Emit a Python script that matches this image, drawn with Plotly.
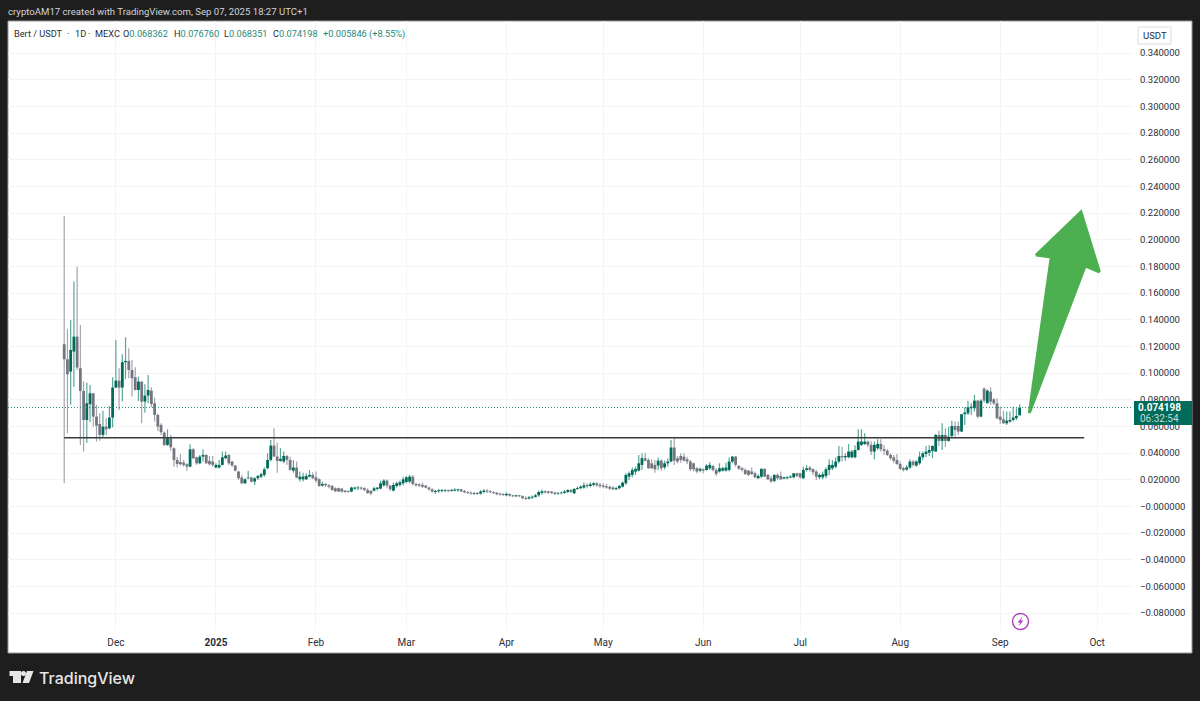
import pandas as pd
import plotly.graph_objects as go

# daily candles, first candle is 2024-11-15
opens = [
    .1217, .1104, .1012, .1162, .1274, .1037, .0867, .0649, .0767, .0849,
    .0674, .0619, .0537, .0599, .0587, .0667, .0892, .0944, .0892, .1082,
    .1092, .1024, .0969, .0874, .0937, .0787, .0832, .0869, .0774, .0687,
    .0612, .0554, .0462, .0512, .0437, .0349, .0334, .0329, .0317, .0299,
    .0429, .0369, .0324, .0374, .0387, .0342, .0337, .0292, .0292, .0312,
    .0362, .0387, .0337, .0307, .0262, .0217, .0174, .0212, .0217, .0187,
    .0212, .0224, .0237, .0287, .0349, .0457, .0374, .0342, .0337, .0379,
    .0349, .0269, .0292, .0204, .0204, .0204, .0224, .0237, .0219, .0204,
    .0157, .0169, .0159, .0154, .0137, .0137, .0134, .0119, .0117, .0112,
    .0134, .0137, .0142, .0137, .0124, .0117, .0119, .0132, .0134, .0159,
    .0194, .0157, .0119, .0154, .0162, .0174, .0184, .0187, .0224, .0169,
    .0167, .0162, .0157, .0142, .0129, .0109, .0114, .0117, .0117, .0122,
    .0117, .0119, .0122, .0129, .0117, .0109, .0104, .0094, .0102, .0097,
    .0109, .0119, .0114, .0109, .0104, .0097, .0094, .0084, .0094, .0084,
    .0077, .0084, .0077, .0064, .0059, .0067, .0072, .0084, .0102, .0114,
    .0114, .0112, .0104, .0097, .0099, .0102, .0109, .0124, .0099, .0132,
    .0137, .0142, .0162, .0154, .0162, .0174, .0164, .0157, .0152, .0147,
    .0142, .0129, .0137, .0149, .0174, .0224, .0237, .0262, .0269, .0312,
    .0362, .0349, .0324, .0312, .0307, .0344, .0294, .0324, .0337, .0442,
    .0362, .0379, .0374, .0354, .0337, .0324, .0287, .0269, .0279, .0274,
    .0287, .0304, .0274, .0262, .0269, .0269, .0274, .0337, .0374, .0304,
    .0287, .0274, .0269, .0262, .0249, .0212, .0224, .0282, .0237, .0212,
    .0192, .0237, .0229, .0209, .0212, .0217, .0219, .0249, .0249, .0212,
    .0274, .0292, .0279, .0262, .0219, .0219, .0229, .0274, .0287, .0299,
    .0337, .0379, .0369, .0369, .0369, .0369, .0424, .0462, .0469, .0487,
    .0462, .0412, .0437, .0469, .0429, .0419, .0387, .0369, .0349, .0319,
    .0287, .0277, .0292, .0337, .0307, .0324, .0369, .0394, .0404, .0417,
    .0412, .0537, .0492, .0537, .0492, .0529, .0604, .0604, .0562, .0692,
    .0699, .0737, .0737, .0794, .0674, .0884, .0774, .0862, .0804, .0774,
    .0674, .0654, .0624, .0637, .0649, .0662, .068362,
]
highs = [
    .2179, .1332, .1399, .1687, .1799, .1362, .0937, .0929, .0912, .0849,
    .0762, .0699, .0719, .0662, .0754, .0969, .1249, .1037, .1142, .1269,
    .1187, .1099, .1044, .0974, .0937, .0917, .0987, .0894, .0817, .0694,
    .0624, .0562, .0579, .0537, .0444, .0374, .0394, .0349, .0324, .0467,
    .0437, .0374, .0387, .0429, .0392, .0379, .0379, .0325, .0349, .0412,
    .0412, .0392, .0342, .0312, .0269, .0237, .0212, .0269, .0224, .0219,
    .0237, .0254, .0294, .0399, .0499, .0587, .0479, .0437, .0412, .0387,
    .0374, .0349, .0337, .0262, .0254, .0249, .0274, .0257, .0262, .0212,
    .0187, .0179, .0169, .0162, .0144, .0142, .0139, .0124, .0119, .0149,
    .0149, .0154, .0149, .0144, .0137, .0124, .0149, .0147, .0194, .0204,
    .0204, .0162, .0179, .0187, .0194, .0224, .0229, .0237, .0237, .0179,
    .0174, .0179, .0162, .0149, .0137, .0124, .0132, .0132, .0132, .0129,
    .0132, .0137, .0134, .0134, .0124, .0114, .0112, .0109, .0109, .0124,
    .0132, .0132, .0124, .0114, .0109, .0104, .0099, .0107, .0099, .0089,
    .0089, .0089, .0084, .0079, .0079, .0082, .0094, .0119, .0127, .0122,
    .0119, .0117, .0112, .0109, .0112, .0124, .0129, .0132, .0137, .0149,
    .0157, .0182, .0174, .0182, .0184, .0184, .0179, .0174, .0169, .0157,
    .0154, .0149, .0162, .0187, .0249, .0262, .0292, .0299, .0387, .0399,
    .0404, .0362, .0354, .0349, .0367, .0354, .0344, .0362, .0499, .0524,
    .0379, .0399, .0399, .0374, .0349, .0329, .0294, .0292, .0287, .0317,
    .0332, .0312, .0287, .0324, .0299, .0329, .0367, .0379, .0379, .0312,
    .0299, .0287, .0274, .0292, .0262, .0242, .0287, .0287, .0244, .0229,
    .0242, .0249, .0262, .0224, .0229, .0237, .0252, .0254, .0254, .0299,
    .0312, .0304, .0287, .0274, .0249, .0262, .0294, .0354, .0349, .0369,
    .0454, .0449, .0399, .0469, .0424, .0459, .0579, .0579, .0549, .0494,
    .0487, .0487, .0504, .0504, .0462, .0429, .0399, .0387, .0394, .0337,
    .0299, .0312, .0354, .0349, .0349, .0412, .0412, .0454, .0462, .0459,
    .0544, .0569, .0624, .0587, .0599, .0644, .0637, .0637, .0694, .0744,
    .0794, .0774, .0837, .0799, .0804, .0894, .0879, .0894, .0812, .0812,
    .0749, .0719, .0712, .0712, .0749, .0737, .07676,
]
lows = [
    .0174, .0549, .0764, .0899, .1024, .0462, .0412, .0479, .0632, .0599,
    .0487, .0494, .0519, .0537, .0579, .0592, .0889, .0724, .0787, .0957,
    .0962, .0824, .0870, .0792, .0624, .0704, .0774, .0744, .0637, .0567,
    .0537, .0454, .0454, .0419, .0299, .0292, .0307, .0299, .0269, .0294,
    .0354, .0312, .0317, .0337, .0320, .0307, .0299, .0287, .0287, .0307,
    .0354, .0312, .0299, .0262, .0199, .0169, .0169, .0204, .0179, .0162,
    .0199, .0212, .0224, .0279, .0337, .0374, .0254, .0337, .0324, .0312,
    .0270, .0254, .0212, .0187, .0187, .0199, .0219, .0204, .0179, .0149,
    .0149, .0149, .0137, .0119, .0109, .0107, .0104, .0104, .0104, .0107,
    .0124, .0124, .0124, .0114, .0094, .0084, .0112, .0119, .0129, .0149,
    .0137, .0119, .0112, .0142, .0149, .0157, .0174, .0174, .0157, .0149,
    .0144, .0137, .0137, .0119, .0104, .0094, .0104, .0107, .0109, .0109,
    .0112, .0112, .0109, .0107, .0099, .0094, .0089, .0087, .0087, .0089,
    .0099, .0099, .0099, .0094, .0084, .0082, .0079, .0077, .0074, .0069,
    .0069, .0069, .0054, .0049, .0054, .0057, .0067, .0074, .0089, .0097,
    .0094, .0094, .0087, .0089, .0092, .0094, .0099, .0102, .0094, .0124,
    .0129, .0134, .0137, .0144, .0149, .0147, .0137, .0137, .0132, .0124,
    .0124, .0124, .0129, .0142, .0162, .0199, .0219, .0237, .0262, .0274,
    .0337, .0282, .0279, .0254, .0274, .0269, .0279, .0299, .0332, .0312,
    .0324, .0329, .0337, .0317, .0267, .0262, .0249, .0257, .0249, .0269,
    .0274, .0262, .0229, .0254, .0262, .0262, .0262, .0324, .0299, .0274,
    .0262, .0237, .0229, .0237, .0212, .0207, .0212, .0219, .0199, .0179,
    .0182, .0199, .0199, .0204, .0204, .0212, .0212, .0219, .0207, .0207,
    .0262, .0262, .0237, .0199, .0204, .0204, .0212, .0237, .0274, .0287,
    .0324, .0337, .0344, .0362, .0362, .0362, .0420, .0454, .0462, .0444,
    .0387, .0354, .0424, .0412, .0387, .0379, .0349, .0324, .0312, .0274,
    .0262, .0269, .0284, .0299, .0299, .0312, .0349, .0369, .0379, .0362,
    .0409, .0454, .0424, .0444, .0487, .0512, .0524, .0537, .0558, .0612,
    .0687, .0687, .0712, .0662, .0669, .0779, .0774, .0762, .0762, .0654,
    .0619, .0619, .0612, .0629, .0637, .0649, .068351,
]
closes = [
    .1104, .0992, .1174, .1274, .1042, .0867, .0649, .0774, .0849, .0674,
    .0607, .0537, .0599, .0579, .0667, .0892, .0944, .0892, .1082, .1092,
    .1024, .0962, .0874, .0937, .0787, .0832, .0874, .0769, .0687, .0599,
    .0557, .0462, .0512, .0444, .0349, .0319, .0317, .0312, .0299, .0429,
    .0362, .0324, .0374, .0387, .0324, .0317, .0312, .0312, .0312, .0369,
    .0382, .0324, .0307, .0269, .0212, .0174, .0204, .0217, .0187, .0212,
    .0229, .0242, .0279, .0349, .0457, .0374, .0342, .0357, .0379, .0349,
    .0274, .0292, .0217, .0224, .0224, .0229, .0237, .0212, .0194, .0154,
    .0169, .0159, .0149, .0124, .0114, .0112, .0112, .0109, .0109, .0142,
    .0142, .0142, .0134, .0124, .0102, .0097, .0137, .0142, .0174, .0194,
    .0157, .0129, .0162, .0174, .0182, .0204, .0219, .0224, .0169, .0159,
    .0157, .0149, .0142, .0129, .0112, .0117, .0122, .0124, .0122, .0114,
    .0124, .0127, .0129, .0114, .0107, .0102, .0097, .0099, .0094, .0112,
    .0119, .0112, .0107, .0102, .0092, .0089, .0087, .0094, .0082, .0077,
    .0084, .0077, .0062, .0057, .0069, .0074, .0084, .0109, .0114, .0104,
    .0104, .0102, .0094, .0102, .0104, .0112, .0124, .0109, .0132, .0139,
    .0149, .0159, .0152, .0167, .0174, .0159, .0154, .0147, .0142, .0134,
    .0129, .0137, .0154, .0179, .0237, .0249, .0274, .0282, .0324, .0362,
    .0344, .0287, .0287, .0279, .0344, .0287, .0324, .0337, .0442, .0344,
    .0337, .0349, .0344, .0337, .0279, .0279, .0262, .0282, .0269, .0307,
    .0312, .0274, .0244, .0287, .0287, .0292, .0337, .0374, .0312, .0284,
    .0274, .0244, .0237, .0244, .0219, .0229, .0282, .0224, .0204, .0187,
    .0237, .0212, .0204, .0219, .0219, .0224, .0249, .0229, .0219, .0274,
    .0287, .0274, .0257, .0224, .0237, .0242, .0279, .0312, .0312, .0337,
    .0379, .0369, .0379, .0412, .0412, .0424, .0487, .0487, .0487, .0462,
    .0412, .0462, .0469, .0429, .0417, .0387, .0362, .0344, .0319, .0282,
    .0274, .0294, .0337, .0312, .0337, .0374, .0399, .0412, .0424, .0454,
    .0537, .0492, .0537, .0492, .0524, .0604, .0574, .0562, .0692, .0704,
    .0744, .0749, .0794, .0674, .0794, .0794, .0869, .0787, .0774, .0662,
    .0649, .0624, .0644, .0649, .0667, .0679, .074198,
]
dates = pd.date_range("2024-11-15", periods=len(closes), freq="D")

support_level = 0.0516
support_dates = ["2024-11-15", "2025-09-27"]

arrow_dates = ["2025-09-10", "2025-09-16 19:00", "2025-09-12 03:00", "2025-09-26",
               "2025-10-01 17:00", "2025-09-27 07:00", "2025-09-10"]
arrow_prices = [0.0701, 0.1871, 0.1886, 0.2209, 0.1759, 0.1804, 0.0701]

price_ticks = [-0.08, -0.06, -0.04, -0.02, 0, 0.02, 0.04, 0.06, 0.08, 0.10, 0.12,
               0.14, 0.16, 0.18, 0.20, 0.22, 0.24, 0.26, 0.28, 0.30, 0.32, 0.34]
price_labels = ["−0.080000", "−0.060000", "−0.040000", "−0.020000", "−0.000000",
                "0.020000", "0.040000", "0.060000", "0.080000", "0.100000", "0.120000",
                "0.140000", "0.160000", "0.180000", "0.200000", "0.220000", "0.240000",
                "0.260000", "0.280000", "0.300000", "0.320000", "0.340000"]
month_ticks = ["2024-12-01", "2025-01-01", "2025-02-01", "2025-03-01", "2025-04-01", "2025-05-01",
               "2025-06-01", "2025-07-01", "2025-08-01", "2025-09-01", "2025-10-01"]
month_labels = ["Dec", "<b>2025</b>", "Feb", "Mar", "Apr", "May", "Jun", "Jul", "Aug", "Sep", "Oct"]

# plot area in page pixels
W, H = 1200, 701
L, R, T, B = 8, 1133, 21, 630
FONT = "Roboto"
UP, DOWN = "#006b5a", "#74767f"
UP_WICK, DOWN_WICK = "#5aa698", "#a3a5ae"
TEAL_TEXT = "#1f8a78"


def px(x):
    return (x - L) / (R - L)


def py(y):
    return 1 - (y - T) / (B - T)


def path(points):
    return "M" + " L".join(f"{px(x):.5f},{py(y):.5f}" for x, y in points) + " Z"


def label(x, y, text, color="#2a2e39", size=9.2, anchor="left", bold=False, family=FONT, weight=None):
    font = dict(family=family, size=size, color=color)
    if weight:
        font["weight"] = weight
    return dict(xref="paper", yref="paper", x=px(x), y=py(y), text=f"<b>{text}</b>" if bold else text,
                showarrow=False, xanchor=anchor, yanchor="middle", font=font, borderpad=0, borderwidth=0)


fig = go.Figure()
# wicks and bodies are both ohlc lines with no side ticks, a thick one for the body
fig.add_trace(go.Ohlc(
    x=dates, open=opens, high=highs, low=lows, close=closes, tickwidth=0,
    increasing=dict(line=dict(color=UP_WICK, width=1.2)),
    decreasing=dict(line=dict(color=DOWN_WICK, width=1.2)),
    showlegend=False, hoverinfo="skip"))
fig.add_trace(go.Ohlc(
    x=dates, open=opens, close=closes,
    high=[max(o, c) for o, c in zip(opens, closes)],
    low=[min(o, c) for o, c in zip(opens, closes)],
    tickwidth=0,
    increasing=dict(line=dict(color=UP, width=2.8)),
    decreasing=dict(line=dict(color=DOWN, width=2.8)),
    showlegend=False, hoverinfo="skip"))
fig.add_trace(go.Scatter(
    x=support_dates, y=[support_level, support_level], mode="lines",
    line=dict(color="#3a3a3a", width=1.4), showlegend=False, hoverinfo="skip"))
fig.add_trace(go.Scatter(
    x=arrow_dates, y=arrow_prices, mode="lines", fill="toself", fillcolor="#4caf50",
    line=dict(color="#4caf50", width=3, shape="linear"), showlegend=False, hoverinfo="skip"))

shapes = [
    # white panel
    dict(type="rect", xref="paper", yref="paper", x0=px(8), x1=px(1192), y0=py(21), y1=py(653),
         fillcolor="white", line=dict(color="#9a9a9a", width=1), layer="below"),
    # last price line
    dict(type="line", xref="paper", yref="y", x0=0, x1=1, y0=closes[-1], y1=closes[-1],
         line=dict(color=TEAL_TEXT, width=1, dash="1px,2px"), layer="above"),
    # price tag
    dict(type="rect", xref="paper", yref="paper", x0=px(1134), x1=px(1192), y0=py(401), y1=py(425),
         fillcolor="#006b5a", line=dict(width=0), layer="above"),
    # USDT button
    dict(type="rect", xref="paper", yref="paper", x0=px(1138), x1=px(1171), y0=py(27), y1=py(44),
         fillcolor="white", line=dict(color="#dcdcdc", width=1), layer="above"),
    # lightning badge
    dict(type="circle", xref="paper", yref="paper", x0=px(1012.5), x1=px(1028.5), y0=py(613.5), y1=py(629.5),
         fillcolor="white", line=dict(color="#ab47bc", width=1.4), layer="above"),
    dict(type="path", xref="paper", yref="paper",
         path=path([(1022.5, 616.5), (1017.5, 622.5), (1020.2, 622.5), (1018.5, 626.5),
                    (1023.5, 620.5), (1020.8, 620.5)]),
         fillcolor="#ab47bc", line=dict(width=0), layer="above"),
    # TradingView logo
    dict(type="path", xref="paper", yref="paper",
         path=path([(9.5, 671), (21, 671), (21, 683), (13, 683), (13, 676), (9.5, 676)]),
         fillcolor="#e6e6e6", line=dict(width=0), layer="above"),
    dict(type="circle", xref="paper", yref="paper", x0=px(21), x1=px(26), y0=py(671), y1=py(676),
         fillcolor="#e6e6e6", line=dict(width=0), layer="above"),
    dict(type="path", xref="paper", yref="paper",
         path=path([(27, 671), (33.5, 671), (29, 683), (22.5, 683)]),
         fillcolor="#e6e6e6", line=dict(width=0), layer="above"),
]

annotations = [
    label(8, 11, "cryptoAM17 created with TradingView.com, Sep 07, 2025 18:27 UTC+1", color="#d1d4dc", size=9.6),
    label(14, 33.5, "Bert / USDT"),
    label(67, 33.5, "·"),
    label(74.5, 33.5, "1D"),
    label(88, 33.5, "·"),
    label(94.5, 33.5, "MEXC"),
    label(123, 33.5, f'O<span style="color:{TEAL_TEXT}">0.068362</span>'),
    label(174, 33.5, f'H<span style="color:{TEAL_TEXT}">0.076760</span>'),
    label(224, 33.5, f'L<span style="color:{TEAL_TEXT}">0.068351</span>'),
    label(273, 33.5, f'C<span style="color:{TEAL_TEXT}">0.074198</span>'),
    label(323, 33.5, "+0.005846 (+8.55%)", color=TEAL_TEXT),
    label(1154.5, 35.5, "USDT", anchor="center", size=9.5),
    label(1159, 407.5, "0.074198", color="white", size=10, anchor="center", bold=True),
    label(1159, 418.5, "06:32:54", color="#c4dbd6", size=10, anchor="center"),
    label(39, 678, "TradingView", color="#e6e6e6", size=16, family="Inter", weight=500),
]

fig.update_layout(
    width=W, height=H,
    margin=dict(l=L, r=W - R, t=T, b=H - B),
    paper_bgcolor="#1e1e1e", plot_bgcolor="rgba(0,0,0,0)",
    shapes=shapes, annotations=annotations, showlegend=False,
    xaxis=dict(
        type="date", range=["2024-10-28 14:00", "2025-10-12 03:00"],
        tickvals=month_ticks, ticktext=month_labels, tickangle=0,
        rangeslider=dict(visible=False),
        showgrid=True, gridcolor="#f4f4f4", gridwidth=1, zeroline=False, showline=False,
        ticks="", ticklabelstandoff=5,
        tickfont=dict(family=FONT, size=10, color="#2a2e39"),
    ),
    yaxis=dict(
        side="right", range=[-0.09263, 0.36413],
        tickvals=price_ticks, ticktext=price_labels,
        showgrid=True, gridcolor="#f4f4f4", gridwidth=1, zeroline=False, showline=False,
        ticks="", ticklabelstandoff=6,
        tickfont=dict(family=FONT, size=9.5, color="#2a2e39"),
    ),
)

# the browser's default body margin would push the figure 8px in
fig.write_html("out.html", config={"displayModeBar": False},
               post_script="document.body.style.margin='0';")
